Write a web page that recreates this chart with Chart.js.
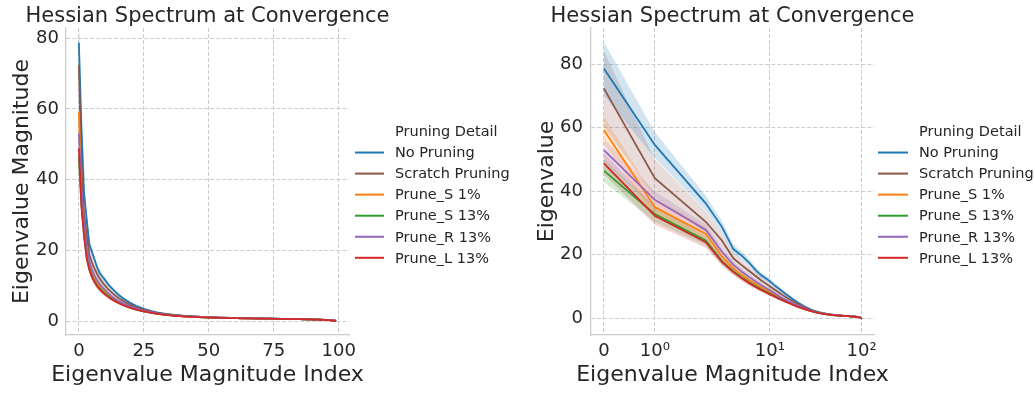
<!DOCTYPE html>
<html>
<head>
<meta charset="utf-8">
<title>Hessian Spectrum at Convergence</title>
<script src="https://cdn.jsdelivr.net/npm/chart.js@4.4.1/dist/chart.umd.min.js"></script>
<style>
  html, body { margin: 0; padding: 0; background: #ffffff; }
  #wrap { position: relative; width: 1035px; height: 393px; overflow: hidden; }
  canvas { position: absolute; top: 0; }
  #linearPanel { left: 0; }
  #symlogPanel { left: 520px; }
</style>
</head>
<body>
<div id="wrap">
  <canvas id="linearPanel" width="520" height="393"></canvas>
  <canvas id="symlogPanel" width="515" height="393"></canvas>
</div>
<script>
// ---- data: top 100 Hessian eigenvalues per run (mean and CI half-width) ----
const seriesNames = ["No Pruning", "Scratch Pruning", "Prune_S 1%", "Prune_S 13%", "Prune_R 13%", "Prune_L 13%"];
const seriesColors = ["#1f77b4", "#8c564b", "#ff7f0e", "#2ca02c", "#9467bd", "#d62728"];

const indexTicks = [0, 25, 50, 75, 100];
const eigTicks = [0, 20, 40, 60, 80];
const symlogTickValues = [0, 1, 10, 100];
const symlogTickLabels = ["0", "10\u2070", "10\u00b9", "10\u00b2"];

const noPruning = [
  78.7, 54.6, 36.2, 28.8, 21.8, 19.6, 17.4, 15.2, 13.6, 12.6,
  11.7, 10.6, 9.8, 9.0, 8.3, 7.6, 7.0, 6.45, 5.95, 5.5,
  5.05, 4.65, 4.3, 3.98, 3.7, 3.44, 3.2, 2.98, 2.78, 2.6,
  2.42, 2.3, 2.18, 2.07, 1.97, 1.88, 1.8, 1.72, 1.65, 1.58,
  1.52, 1.46, 1.41, 1.36, 1.31, 1.27, 1.23, 1.19, 1.15, 1.12,
  1.09, 1.06, 1.03, 1.0, 0.98, 0.96, 0.94, 0.92, 0.9, 0.88,
  0.86, 0.84, 0.83, 0.81, 0.8, 0.78, 0.77, 0.76, 0.74, 0.73,
  0.72, 0.71, 0.7, 0.68, 0.67, 0.66, 0.65, 0.64, 0.63, 0.62,
  0.6, 0.59, 0.58, 0.57, 0.55, 0.54, 0.52, 0.51, 0.49, 0.47,
  0.45, 0.43, 0.41, 0.38, 0.35, 0.32, 0.28, 0.22, 0.15, 0.03
];
const scratchPruning = [
  72.4, 44.1, 30.4, 24.5, 18.9, 16.6, 14.8, 13.3, 12.0, 11.0,
  10.1, 9.25, 8.5, 7.8, 7.2, 6.65, 6.15, 5.7, 5.28, 4.9,
  4.55, 4.22, 3.92, 3.66, 3.42, 3.2, 3.0, 2.8, 2.62, 2.44,
  2.28, 2.17, 2.06, 1.96, 1.87, 1.79, 1.71, 1.64, 1.57, 1.51,
  1.46, 1.41, 1.36, 1.32, 1.28, 1.24, 1.2, 1.16, 1.13, 1.1,
  1.07, 1.04, 1.01, 0.99, 0.97, 0.95, 0.93, 0.91, 0.89, 0.87,
  0.85, 0.83, 0.82, 0.8, 0.79, 0.77, 0.76, 0.75, 0.73, 0.72,
  0.71, 0.7, 0.69, 0.67, 0.66, 0.65, 0.64, 0.63, 0.62, 0.61,
  0.59, 0.58, 0.57, 0.56, 0.54, 0.53, 0.51, 0.5, 0.48, 0.46,
  0.44, 0.42, 0.4, 0.37, 0.34, 0.31, 0.27, 0.21, 0.14, 0.02
];
const pruneS1 = [
  59.3, 35.0, 26.6, 19.5, 15.7, 13.6, 12.0, 10.8, 9.8, 9.0,
  8.3, 7.6, 7.0, 6.45, 5.95, 5.5, 5.1, 4.74, 4.42, 4.13,
  3.87, 3.62, 3.4, 3.19, 3.0, 2.82, 2.66, 2.51, 2.37, 2.24,
  2.11, 2.0, 1.9, 1.81, 1.73, 1.65, 1.58, 1.51, 1.45, 1.39,
  1.34, 1.29, 1.25, 1.21, 1.17, 1.13, 1.1, 1.07, 1.04, 1.01,
  0.99, 0.97, 0.95, 0.93, 0.91, 0.89, 0.87, 0.85, 0.84, 0.82,
  0.81, 0.79, 0.78, 0.77, 0.75, 0.74, 0.73, 0.72, 0.71, 0.7,
  0.69, 0.68, 0.67, 0.65, 0.64, 0.63, 0.62, 0.61, 0.6, 0.59,
  0.58, 0.57, 0.56, 0.54, 0.53, 0.52, 0.5, 0.49, 0.47, 0.45,
  0.43, 0.41, 0.39, 0.36, 0.33, 0.3, 0.26, 0.2, 0.13, 0.02
];
const pruneS13 = [
  46.5, 32.8, 24.5, 18.0, 14.8, 12.8, 11.3, 10.1, 9.2, 8.45,
  7.8, 7.2, 6.65, 6.15, 5.7, 5.3, 4.93, 4.6, 4.3, 4.0,
  3.72, 3.49, 3.28, 3.08, 2.9, 2.73, 2.58, 2.44, 2.31, 2.19,
  2.08, 1.98, 1.88, 1.79, 1.71, 1.64, 1.57, 1.5, 1.44, 1.39,
  1.34, 1.29, 1.24, 1.2, 1.16, 1.12, 1.09, 1.06, 1.03, 1.0,
  0.98, 0.96, 0.94, 0.92, 0.9, 0.88, 0.86, 0.85, 0.83, 0.82,
  0.8, 0.79, 0.78, 0.76, 0.75, 0.74, 0.73, 0.72, 0.71, 0.7,
  0.69, 0.68, 0.66, 0.65, 0.64, 0.63, 0.62, 0.61, 0.6, 0.59,
  0.58, 0.57, 0.55, 0.54, 0.53, 0.51, 0.5, 0.48, 0.47, 0.45,
  0.43, 0.41, 0.39, 0.36, 0.33, 0.29, 0.25, 0.19, 0.12, 0.01
];
const pruneR13 = [
  53.0, 37.3, 27.8, 21.0, 16.8, 14.6, 12.9, 11.6, 10.5, 9.6,
  8.85, 8.1, 7.4, 6.8, 6.25, 5.78, 5.35, 4.97, 4.63, 4.35,
  4.1, 3.82, 3.56, 3.32, 3.1, 2.9, 2.72, 2.56, 2.41, 2.27,
  2.14, 2.04, 1.94, 1.85, 1.77, 1.69, 1.62, 1.55, 1.49, 1.43,
  1.38, 1.33, 1.29, 1.25, 1.21, 1.17, 1.14, 1.11, 1.08, 1.05,
  1.02, 1.0, 0.98, 0.96, 0.94, 0.92, 0.9, 0.88, 0.86, 0.84,
  0.83, 0.81, 0.8, 0.78, 0.77, 0.76, 0.74, 0.73, 0.72, 0.71,
  0.7, 0.69, 0.68, 0.66, 0.65, 0.64, 0.63, 0.62, 0.61, 0.6,
  0.59, 0.58, 0.56, 0.55, 0.54, 0.52, 0.51, 0.49, 0.48, 0.46,
  0.44, 0.42, 0.4, 0.37, 0.34, 0.31, 0.27, 0.21, 0.14, 0.02
];
const pruneL13 = [
  48.8, 32.3, 24.0, 17.8, 14.6, 12.5, 11.0, 9.85, 8.95, 8.2,
  7.55, 6.97, 6.45, 5.98, 5.55, 5.17, 4.82, 4.5, 4.21, 3.94,
  3.69, 3.46, 3.25, 3.06, 2.88, 2.71, 2.56, 2.42, 2.29, 2.17,
  2.06, 1.96, 1.86, 1.77, 1.69, 1.62, 1.55, 1.48, 1.42, 1.37,
  1.32, 1.27, 1.23, 1.19, 1.15, 1.11, 1.08, 1.05, 1.02, 0.99,
  0.97, 0.95, 0.93, 0.91, 0.89, 0.87, 0.86, 0.84, 0.83, 0.81,
  0.8, 0.79, 0.77, 0.76, 0.75, 0.74, 0.73, 0.72, 0.7, 0.69,
  0.68, 0.67, 0.66, 0.65, 0.64, 0.63, 0.62, 0.61, 0.6, 0.58,
  0.57, 0.56, 0.55, 0.54, 0.52, 0.51, 0.49, 0.48, 0.46, 0.44,
  0.42, 0.4, 0.38, 0.35, 0.32, 0.29, 0.24, 0.18, 0.11, 0.0
];

// 95% CI half-widths over seeds
const noPruningCI = [
  8.35, 4.1, 2.4, 1.9, 1.5, 1.3, 1.15, 1.0, 0.92, 0.85,
  0.8, 0.74, 0.69, 0.64, 0.6, 0.56, 0.52, 0.49, 0.46, 0.43,
  0.41, 0.39, 0.37, 0.35, 0.33, 0.31, 0.3, 0.29, 0.28, 0.27,
  0.26, 0.25, 0.24, 0.24, 0.23, 0.23, 0.22, 0.22, 0.21, 0.21,
  0.2, 0.2, 0.2, 0.19, 0.19, 0.19, 0.19, 0.18, 0.18, 0.18,
  0.18, 0.18, 0.17, 0.17, 0.17, 0.17, 0.17, 0.17, 0.16, 0.16,
  0.16, 0.16, 0.16, 0.16, 0.16, 0.16, 0.16, 0.16, 0.16, 0.16,
  0.16, 0.16, 0.16, 0.17, 0.17, 0.17, 0.17, 0.17, 0.17, 0.18,
  0.18, 0.18, 0.18, 0.19, 0.19, 0.19, 0.2, 0.2, 0.21, 0.21,
  0.22, 0.22, 0.23, 0.24, 0.25, 0.26, 0.27, 0.28, 0.3, 0.32
];
const scratchPruningCI = [
  11.9, 6.0, 3.2, 2.4, 1.9, 1.6, 1.4, 1.25, 1.1, 1.0,
  0.92, 0.85, 0.78, 0.72, 0.66, 0.61, 0.56, 0.52, 0.48, 0.45,
  0.42, 0.4, 0.38, 0.36, 0.34, 0.32, 0.31, 0.3, 0.29, 0.28,
  0.27, 0.26, 0.25, 0.24, 0.24, 0.23, 0.23, 0.22, 0.22, 0.21,
  0.21, 0.2, 0.2, 0.2, 0.19, 0.19, 0.19, 0.18, 0.18, 0.18,
  0.18, 0.17, 0.17, 0.17, 0.17, 0.17, 0.16, 0.16, 0.16, 0.16,
  0.16, 0.16, 0.16, 0.16, 0.16, 0.16, 0.16, 0.16, 0.16, 0.16,
  0.16, 0.16, 0.17, 0.17, 0.17, 0.17, 0.17, 0.18, 0.18, 0.18,
  0.18, 0.19, 0.19, 0.19, 0.2, 0.2, 0.2, 0.21, 0.21, 0.22,
  0.22, 0.23, 0.24, 0.24, 0.25, 0.26, 0.28, 0.29, 0.31, 0.33
];
const pruneS1CI = [
  4.3, 3.0, 2.0, 1.5, 1.2, 1.0, 0.9, 0.8, 0.72, 0.66,
  0.61, 0.57, 0.53, 0.5, 0.47, 0.44, 0.42, 0.4, 0.38, 0.36,
  0.34, 0.33, 0.32, 0.31, 0.3, 0.29, 0.28, 0.27, 0.26, 0.25,
  0.24, 0.24, 0.23, 0.23, 0.22, 0.22, 0.21, 0.21, 0.2, 0.2,
  0.2, 0.19, 0.19, 0.19, 0.18, 0.18, 0.18, 0.18, 0.17, 0.17,
  0.17, 0.17, 0.17, 0.16, 0.16, 0.16, 0.16, 0.16, 0.16, 0.16,
  0.15, 0.15, 0.15, 0.15, 0.15, 0.15, 0.15, 0.16, 0.16, 0.16,
  0.16, 0.16, 0.16, 0.16, 0.17, 0.17, 0.17, 0.17, 0.17, 0.18,
  0.18, 0.18, 0.18, 0.19, 0.19, 0.19, 0.2, 0.2, 0.2, 0.21,
  0.21, 0.22, 0.22, 0.23, 0.24, 0.25, 0.26, 0.27, 0.29, 0.31
];
const pruneS13CI = [
  3.6, 2.4, 1.6, 1.2, 1.0, 0.88, 0.78, 0.7, 0.64, 0.58,
  0.54, 0.5, 0.47, 0.44, 0.42, 0.4, 0.38, 0.36, 0.34, 0.33,
  0.32, 0.31, 0.3, 0.29, 0.28, 0.27, 0.26, 0.25, 0.24, 0.24,
  0.23, 0.23, 0.22, 0.22, 0.21, 0.21, 0.2, 0.2, 0.2, 0.19,
  0.19, 0.19, 0.18, 0.18, 0.18, 0.18, 0.17, 0.17, 0.17, 0.17,
  0.17, 0.16, 0.16, 0.16, 0.16, 0.16, 0.16, 0.16, 0.15, 0.15,
  0.15, 0.15, 0.15, 0.15, 0.15, 0.15, 0.15, 0.15, 0.15, 0.16,
  0.16, 0.16, 0.16, 0.16, 0.16, 0.17, 0.17, 0.17, 0.17, 0.17,
  0.18, 0.18, 0.18, 0.18, 0.19, 0.19, 0.19, 0.2, 0.2, 0.21,
  0.21, 0.22, 0.22, 0.23, 0.24, 0.25, 0.26, 0.27, 0.28, 0.3
];
const pruneR13CI = [
  3.5, 2.6, 1.8, 1.4, 1.1, 0.95, 0.85, 0.76, 0.7, 0.64,
  0.59, 0.55, 0.51, 0.48, 0.45, 0.43, 0.41, 0.39, 0.37, 0.35,
  0.34, 0.33, 0.32, 0.31, 0.3, 0.29, 0.28, 0.27, 0.26, 0.25,
  0.24, 0.24, 0.23, 0.23, 0.22, 0.22, 0.21, 0.21, 0.2, 0.2,
  0.2, 0.19, 0.19, 0.19, 0.18, 0.18, 0.18, 0.18, 0.17, 0.17,
  0.17, 0.17, 0.17, 0.16, 0.16, 0.16, 0.16, 0.16, 0.16, 0.16,
  0.16, 0.15, 0.15, 0.15, 0.15, 0.15, 0.16, 0.16, 0.16, 0.16,
  0.16, 0.16, 0.16, 0.17, 0.17, 0.17, 0.17, 0.17, 0.18, 0.18,
  0.18, 0.18, 0.19, 0.19, 0.19, 0.2, 0.2, 0.2, 0.21, 0.21,
  0.22, 0.22, 0.23, 0.24, 0.24, 0.25, 0.26, 0.28, 0.29, 0.31
];
const pruneL13CI = [
  3.4, 2.8, 1.8, 1.3, 1.05, 0.9, 0.8, 0.72, 0.65, 0.6,
  0.56, 0.52, 0.49, 0.46, 0.43, 0.41, 0.39, 0.37, 0.35, 0.34,
  0.33, 0.32, 0.31, 0.3, 0.29, 0.28, 0.27, 0.26, 0.25, 0.24,
  0.23, 0.23, 0.22, 0.22, 0.21, 0.21, 0.2, 0.2, 0.2, 0.19,
  0.19, 0.19, 0.18, 0.18, 0.18, 0.18, 0.17, 0.17, 0.17, 0.17,
  0.17, 0.16, 0.16, 0.16, 0.16, 0.16, 0.16, 0.16, 0.15, 0.15,
  0.15, 0.15, 0.15, 0.15, 0.15, 0.15, 0.15, 0.15, 0.16, 0.16,
  0.16, 0.16, 0.16, 0.16, 0.17, 0.17, 0.17, 0.17, 0.17, 0.18,
  0.18, 0.18, 0.18, 0.19, 0.19, 0.19, 0.2, 0.2, 0.21, 0.21,
  0.22, 0.22, 0.23, 0.24, 0.25, 0.26, 0.27, 0.28, 0.3, 0.32
];

const seriesValues = [noPruning, scratchPruning, pruneS1, pruneS13, pruneR13, pruneL13];
const seriesCI = [noPruningCI, scratchPruningCI, pruneS1CI, pruneS13CI, pruneR13CI, pruneL13CI];

// ---- look ----
const FONT = '"DejaVu Sans", "Liberation Sans", sans-serif';
const TEXT = '#262626';
const GRID = '#cccccc';

// symlog transform, linthresh 2, linscale 1, base 10 (same as matplotlib)
const LINTHRESH = 2;
const LINSCALE = 1 / (1 - 1 / 10);
function symlog(v) {
  const a = Math.abs(v);
  const t = a <= LINTHRESH ? a * LINSCALE : LINTHRESH * (LINSCALE + Math.log10(a / LINTHRESH));
  return v < 0 ? -t : t;
}
function symexp(t) {
  const a = Math.abs(t);
  const v = a <= LINTHRESH * LINSCALE ? a / LINSCALE : LINTHRESH * Math.pow(10, a / LINTHRESH - LINSCALE);
  return t < 0 ? -v : v;
}

class SymlogScale extends Chart.Scale {
  static id = 'symlog';
  static defaults = {};

  parse(raw, index) {
    const value = Chart.LinearScale.prototype.parse.apply(this, [raw, index]);
    return isFinite(value) ? value : null;
  }
  determineDataLimits() {
    const { min, max } = this.getMinMax(true);
    this.min = isFinite(min) ? min : 0;
    this.max = isFinite(max) ? max : 1;
  }
  buildTicks() {
    return symlogTickValues.map(v => ({ value: v }));
  }
  getLabelForValue(value) {
    return String(value);
  }
  configure() {
    super.configure();
    this._startValue = symlog(this.min);
    this._valueRange = symlog(this.max) - this._startValue;
  }
  getPixelForValue(value) {
    return this.getPixelForDecimal((symlog(value) - this._startValue) / this._valueRange);
  }
  getValueForPixel(pixel) {
    return symexp(this._startValue + this.getDecimalForPixel(pixel) * this._valueRange);
  }
}
Chart.register(SymlogScale);

function withAlpha(hex, a) {
  const n = parseInt(hex.slice(1), 16);
  return `rgba(${(n >> 16) & 255}, ${(n >> 8) & 255}, ${n & 255}, ${a})`;
}

function buildDatasets() {
  const lines = [];
  const bands = [];
  seriesValues.forEach((vals, k) => {
    const ci = seriesCI[k];
    lines.push({
      label: seriesNames[k],
      data: vals.map((y, i) => ({ x: i, y })),
      borderColor: seriesColors[k],
      borderWidth: 1.8,
      pointRadius: 0,
      fill: false,
      tension: 0,
      order: -k,
    });
    bands.push({
      data: vals.map((y, i) => ({ x: i, y: y + ci[i] })),
      borderWidth: 0,
      pointRadius: 0,
      backgroundColor: withAlpha(seriesColors[k], 0.2),
      fill: '+1',
      order: 10,
    });
    bands.push({
      data: vals.map((y, i) => ({ x: i, y: y - ci[i] })),
      borderWidth: 0,
      pointRadius: 0,
      fill: false,
      order: 10,
    });
  });
  return lines.concat(bands);
}

// titles, axis labels and the legend
const panelText = {
  id: 'panelText',
  afterDraw(chart, args, opts) {
    const { ctx, chartArea } = chart;
    const cx = (chartArea.left + chartArea.right) / 2;
    const cy = (chartArea.top + chartArea.bottom) / 2;
    ctx.save();
    ctx.fillStyle = TEXT;
    ctx.textAlign = 'center';
    ctx.textBaseline = 'alphabetic';
    ctx.font = '21px ' + FONT;
    ctx.fillText(opts.title, cx, 21.5);
    ctx.font = '22px ' + FONT;
    ctx.fillText(opts.xLabel, cx, 380.5);
    ctx.save();
    ctx.translate(opts.yLabelX, cy);
    ctx.rotate(-Math.PI / 2);
    ctx.fillText(opts.yLabel, 0, 0);
    ctx.restore();

    ctx.font = '14.5px ' + FONT;
    ctx.textAlign = 'left';
    ctx.textBaseline = 'middle';
    const rowY = i => 131.5 + 21.05 * i;
    ctx.fillText('Pruning Detail', opts.legendTextX, rowY(0) + 1);
    seriesNames.forEach((name, k) => {
      const y = rowY(k + 1);
      ctx.strokeStyle = seriesColors[k];
      ctx.lineWidth = 2;
      ctx.beginPath();
      ctx.moveTo(opts.legendLineX0, y);
      ctx.lineTo(opts.legendLineX1, y);
      ctx.stroke();
      ctx.fillText(name, opts.legendTextX, y + 1);
    });
    ctx.restore();
  }
};

function axisStyle(tickValues, extra) {
  return Object.assign({
    afterBuildTicks: s => { s.ticks = tickValues.map(v => ({ value: v })); },
    grid: { color: GRID, lineWidth: 1, drawTicks: false },
    border: { display: true, color: GRID, width: 1.25, dash: [4, 2] },
    ticks: { color: TEXT, font: { family: FONT, size: 18 }, autoSkip: false, maxRotation: 0 },
  }, extra);
}

function makeChart(id, xScale, yScale, rightPad, yWidth, text) {
  return new Chart(document.getElementById(id), {
    type: 'line',
    data: { datasets: buildDatasets() },
    options: {
      responsive: false,
      animation: false,
      layout: { padding: { left: 0, top: 28, right: rightPad, bottom: 0 } },
      plugins: { legend: { display: false }, tooltip: { enabled: false }, title: { display: false }, panelText: text },
      scales: {
        x: Object.assign(xScale, { afterFit: s => { s.height = 58; } }),
        y: Object.assign(yScale, { afterFit: s => { s.width = yWidth; } }),
      },
    },
    plugins: [panelText],
  });
}

// left: linear index axis
const leftX = axisStyle(indexTicks, { type: 'linear', min: -4.95, max: 103.95 });
leftX.ticks.padding = 6;
const leftY = axisStyle(eigTicks, { type: 'linear', min: -3.96, max: 82.9 });
leftY.ticks.padding = 7;
makeChart('linearPanel', leftX, leftY, 171, 66, {
  title: 'Hessian Spectrum at Convergence',
  xLabel: 'Eigenvalue Magnitude Index',
  yLabel: 'Eigenvalue Magnitude',
  yLabelX: 28,
  legendLineX0: 355, legendLineX1: 384, legendTextX: 395,
});

// right: symlog index axis
const rightX = axisStyle(symlogTickValues, { type: 'symlog', min: -0.2525, max: 136.7 });
rightX.ticks.padding = 6;
rightX.ticks.callback = v => symlogTickLabels[symlogTickValues.indexOf(v)];
const rightY = axisStyle(eigTicks, { type: 'linear', min: -5.26, max: 91.43 });
rightY.ticks.padding = 8;
makeChart('symlogPanel', rightX, rightY, 161, 71, {
  title: 'Hessian Spectrum at Convergence',
  xLabel: 'Eigenvalue Magnitude Index',
  yLabel: 'Eigenvalue',
  yLabelX: 33,
  legendLineX0: 358, legendLineX1: 388, legendTextX: 399,
});
</script>
</body>
</html>
